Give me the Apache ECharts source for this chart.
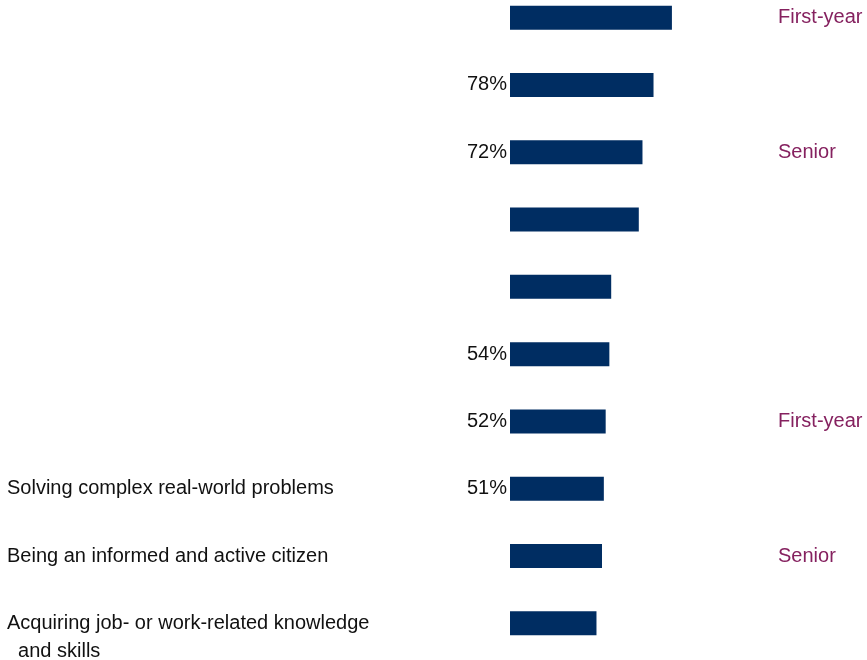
<!DOCTYPE html>
<html>
<head>
<meta charset="utf-8">
<script src="https://cdn.jsdelivr.net/npm/echarts@6/dist/echarts.min.js"></script>
<style>
  html, body { margin: 0; padding: 0; background: #ffffff; }
  #main { width: 867px; height: 660px; }
</style>
</head>
<body>
<div id="main"></div>
<script>
// Row labels (top to bottom); only the last three are visible in the reference
var categories = [
  '', '', '', '', '', '', '',
  'Solving complex real-world problems',
  'Being an informed and active citizen',
  'Acquiring job- or work-related knowledge\n  and skills'
];
// Bar values (percent)
var values = [88, 78, 72, 70, 55, 54, 52, 51, 50, 47];
// Value labels shown next to the bars ('' = none)
var valueLabels = ['', '78%', '72%', '', '', '54%', '52%', '51%', '', ''];
// Labels on the right-hand side
var rightLabels = ['First-year', '', 'Senior', '', '', '', 'First-year', '', 'Senior', ''];

var FONT = '"Liberation Sans", Arial, sans-serif';
var chart = echarts.init(document.getElementById('main'), null, { renderer: 'canvas' });

var seriesData = values.map(function (v, i) {
  return {
    value: v,
    label: {
      show: valueLabels[i] !== '',
      formatter: valueLabels[i]
    }
  };
});

chart.setOption({
  backgroundColor: '#ffffff',
  animation: false,
  grid: { left: 510, right: 173, top: -16, bottom: 3, containLabel: false, outerBoundsMode: 'none' },
  xAxis: {
    type: 'value', min: 0, max: 100, show: false
  },
  yAxis: [
    {
      type: 'category',
      inverse: true,
      data: categories,
      position: 'left',
      axisLine: { show: false },
      axisTick: { show: false },
      splitLine: { show: false },
      axisLabel: {
        align: 'left',
        margin: 503,
        fontFamily: FONT,
        fontSize: 20,
        color: '#111111',
        lineHeight: 28,
        padding: [3, 0, 0, 0],
        formatter: function (v) {
          // wrapped label starts on the row's centre line
          return v.indexOf('\n') >= 0 ? '\n' + v : v;
        }
      }
    },
    {
      type: 'category',
      inverse: true,
      data: rightLabels,
      position: 'right',
      axisLine: { show: false },
      axisTick: { show: false },
      splitLine: { show: false },
      axisLabel: {
        align: 'left',
        margin: 84,
        fontFamily: FONT,
        fontSize: 20,
        color: '#85215F',
        padding: [4, 0, 0, 0]
      }
    }
  ],
  series: [{
    type: 'bar',
    yAxisIndex: 0,
    data: seriesData,
    barWidth: 24,
    itemStyle: { color: '#002D62' },
    label: {
      position: 'left',
      distance: 3,
      fontFamily: FONT,
      fontSize: 20,
      color: '#111111',
      padding: [3, 0, 0, 0]
    }
  }]
});
</script>
</body>
</html>
